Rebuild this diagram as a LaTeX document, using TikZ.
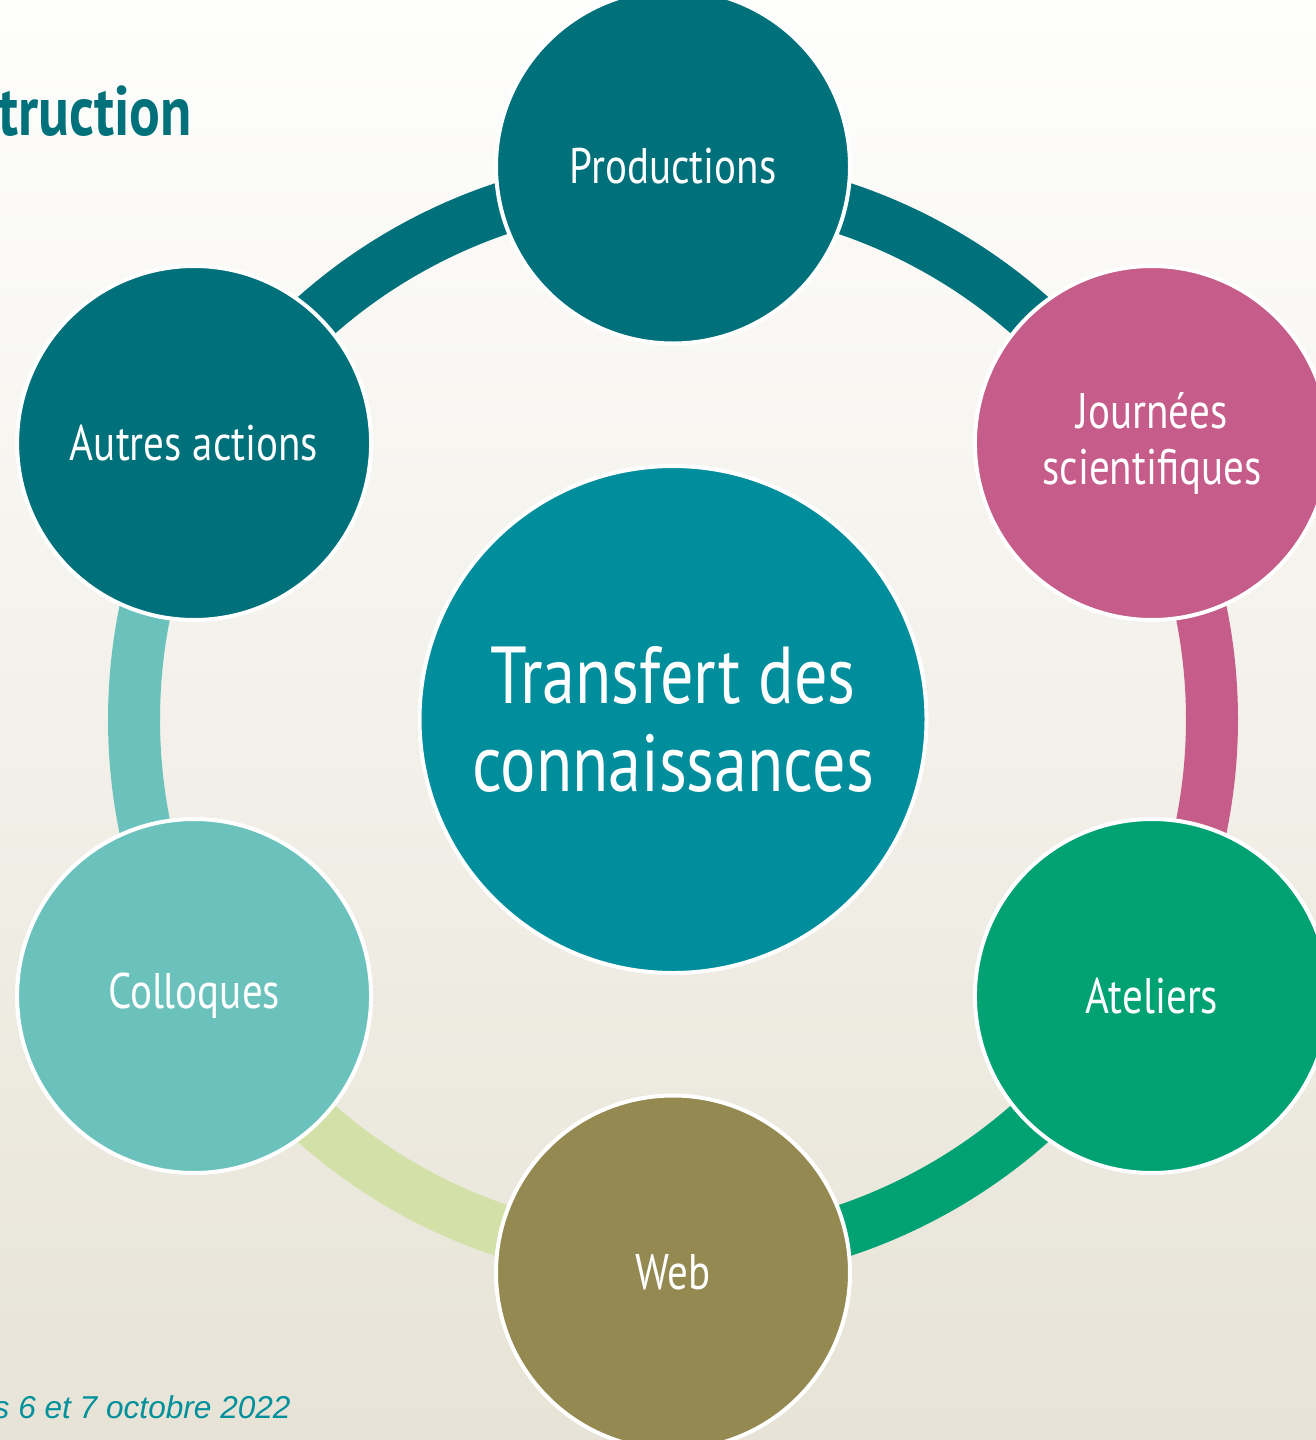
\documentclass[tikz,border=0pt]{standalone}
\usepackage{fontspec}
\setmainfont{PT Sans}[FakeStretch=0.82]
\newfontfamily\footfont{Liberation Sans}
\usetikzlibrary{calc}

\definecolor{bgtop}{RGB}{254,254,253}
\definecolor{bgbot}{RGB}{231,227,214}
\definecolor{darkteal}{RGB}{0,112,122}
\definecolor{centerteal}{RGB}{0,142,156}
\definecolor{rosepink}{RGB}{197,92,137}
\definecolor{jade}{RGB}{0,162,115}
\definecolor{olive}{RGB}{147,137,81}
\definecolor{lightteal}{RGB}{107,194,189}
\definecolor{paleleaf}{RGB}{211,224,168}
\definecolor{foottext}{RGB}{0,144,156}

\tikzset{
  ringarc/.style={line width=26pt},
  bubble/.style={circle, draw=white, line width=2pt, minimum size=177pt,
    inner sep=0pt, text=white, align=center,
    font=\fontsize{25pt}{28pt}\selectfont},
  hub/.style={circle, draw=white, line width=2pt, minimum size=253.5pt,
    inner sep=0pt, text=white, align=center, fill=centerteal,
    font=\fontsize{40.4pt}{44pt}\selectfont},
}

\begin{document}
\begin{tikzpicture}[x=0.5pt,y=0.5pt]
  \useasboundingbox (0,0) rectangle (1316,-1440);
  \shade[top color=bgtop, bottom color=bgbot] (0,0) rectangle (1316,-1440);

  % title fragment and footer
  \node[anchor=base east, inner sep=0pt, text=darkteal,
        font=\fontsize{35pt}{38pt}\selectfont\bfseries] (title) at (192,-135) {truction};
  \node[anchor=base east, inner sep=0pt, text=foottext,
        font=\footfont\itshape\fontsize{15.8pt}{18pt}\selectfont] (foot) at (291,-1418) {s 6 et 7 octobre 2022};

  % centre of the cycle and points on the ring
  \coordinate (C) at (673,-719.5);
  \foreach \nm/\ang in {rP/90, rJ/30, rA/-30, rW/-90, rC/-150, rU/150}
    \coordinate (\nm) at ($(C)+(\ang:539)$);

  % ring segments
  \draw[ringarc, darkteal]  (rP) arc[start angle=90,  end angle=30,   radius=539];
  \draw[ringarc, rosepink]  (rJ) arc[start angle=30,  end angle=-30,  radius=539];
  \draw[ringarc, jade]      (rA) arc[start angle=-30, end angle=-90,  radius=539];
  \draw[ringarc, paleleaf]  (rW) arc[start angle=-90, end angle=-150, radius=539];
  \draw[ringarc, lightteal] (rC) arc[start angle=210, end angle=150,  radius=539];
  \draw[ringarc, darkteal]  (rU) arc[start angle=150, end angle=90,   radius=539];

  % nodes
  \node[hub] (hub) at (C) {Transfert des\\connaissances};
  \node[bubble, fill=darkteal]  (prod) at ($(C)+(90:553)$)  {Productions};
  \node[bubble, fill=rosepink]  (jour) at ($(C)+(30:553)$)  {Journées\\scientifiques};
  \node[bubble, fill=jade]      (atel) at ($(C)+(-30:553)$) {Ateliers};
  \node[bubble, fill=olive]     (web)  at ($(C)+(-90:553)$) {Web};
  \node[bubble, fill=lightteal] (coll) at ($(C)+(210:553)$) {Colloques};
  \node[bubble, fill=darkteal]  (autr) at ($(C)+(150:553)$) {Autres actions};
\end{tikzpicture}
\end{document}
